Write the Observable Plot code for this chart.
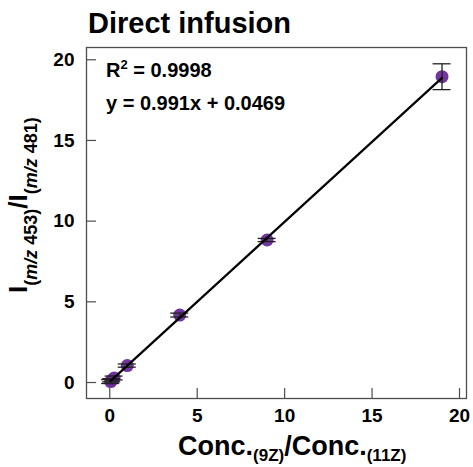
<!DOCTYPE html>
<html>
<head>
<meta charset="utf-8">
<script src="https://cdn.jsdelivr.net/npm/d3@7"></script>
<script src="https://cdn.jsdelivr.net/npm/@observablehq/plot@0.6"></script>
<style>
  body { margin: 0; background: #fff; }
  svg text { white-space: pre; }
</style>
</head>
<body>
<div id="chart"></div>
<script>
// Concentration ratio 9Z/11Z and measured intensity ratio m/z 453 / m/z 481
const concRatio = [0.0526, 0.111, 0.25, 1, 4, 9, 19];
const intensityRatio = [0.06, 0.14, 0.28, 1.05, 4.18, 8.83, 18.95];
const intensitySD = [0.12, 0.1, 0.12, 0.1, 0.12, 0.1, 0.8];

// Linear fit reported on the chart
const slope = 0.991;
const intercept = 0.0469;
const rSquared = "0.9998";

const xTicks = [0, 5, 10, 15, 20];
const yTicks = [0, 5, 10, 15, 20];

const points = concRatio.map((x, i) => ({x, y: intensityRatio[i], sd: intensitySD[i]}));
const fitRange = [d3.min(concRatio), d3.max(concRatio)];
const fitLine = fitRange.map(x => ({x, y: slope * x + intercept}));

const font = "'Liberation Sans', Arial, Helvetica, sans-serif";
const axisColor = "#4d4d4d";
const dotColor = "#6a2a98";

const W = 473, H = 467;
const mL = 86, mR = 7, mT = 47, mB = 69;
const frameW = W - mL - mR, frameH = H - mT - mB;
const tickLen = 10;

const chart = Plot.plot({
  width: W,
  height: H,
  marginLeft: mL,
  marginRight: mR,
  marginTop: mT,
  marginBottom: mB,
  style: {fontFamily: font, background: "#fff", color: "#000"},
  x: {domain: [-1.33, 20.4]},
  y: {domain: [-0.99, 20.76]},
  marks: [
    Plot.frame({stroke: axisColor, strokeWidth: 1.3}),
    // inward ticks
    Plot.ruleX(xTicks, {x: d => d, insetTop: frameH - tickLen, stroke: axisColor, strokeWidth: 1.2}),
    Plot.ruleY(yTicks, {y: d => d, insetRight: frameW - tickLen, stroke: axisColor, strokeWidth: 1.2}),
    Plot.axisX(xTicks, {tickSize: 0, tickPadding: 10, fontSize: 19, fontWeight: "bold", label: null}),
    Plot.axisY(yTicks, {tickSize: 0, tickPadding: 12, fontSize: 19, fontWeight: "bold", label: null}),
    // data points with error bars
    Plot.dot(points, {x: "x", y: "y", r: 6.5, fill: dotColor, fillOpacity: 0.95}),
    Plot.ruleX(points, {x: "x", y1: d => d.y - d.sd, y2: d => d.y + d.sd, stroke: "#222", strokeWidth: 1.3}),
    Plot.ruleY(points, {y: d => d.y - d.sd, x1: "x", x2: "x", insetLeft: -9, insetRight: -9, stroke: "#222", strokeWidth: 1.3}),
    Plot.ruleY(points, {y: d => d.y + d.sd, x1: "x", x2: "x", insetLeft: -9, insetRight: -9, stroke: "#222", strokeWidth: 1.3}),
    // regression line
    Plot.line(fitLine, {x: "x", y: "y", stroke: "#000", strokeWidth: 2.2})
  ]
});

document.getElementById("chart").append(chart);

const svg = d3.select(chart);

function label(x, y, size) {
  return svg.append("text")
    .attr("x", x).attr("y", y)
    .attr("text-anchor", "start")
    .attr("font-family", font).attr("font-size", size).attr("font-weight", "bold")
    .attr("fill", "#000");
}

// Title
label(88, 33, 29).text("Direct infusion");

// Fit statistics
const stat1 = label(106, 77, 20);
stat1.append("tspan").text("R");
stat1.append("tspan").attr("font-size", 13).attr("dy", -8).text("2");
stat1.append("tspan").attr("dy", 8).text(" = " + rSquared);

label(106, 110, 20).text(`y = ${slope}x + ${intercept}`);

// Rich text helper: segments with size, italic and baseline shift
function richText(sel, segments) {
  let prev = 0;
  for (const s of segments) {
    const t = sel.append("tspan")
      .attr("font-size", s.size)
      .attr("dy", s.shift - prev)
      .text(s.t);
    if (s.italic) t.attr("font-style", "italic");
    prev = s.shift;
  }
}

// x-axis label
const xl = label(178, 455, 27);
richText(xl, [
  {t: "Conc.", size: 27, shift: 0},
  {t: "(9Z)", size: 17, shift: 6},
  {t: "/Conc.", size: 27, shift: 0},
  {t: "(11Z)", size: 17, shift: 6}
]);

// y-axis label
const yl = label(0, 0, 26).attr("transform", "translate(27,293) rotate(-90)");
richText(yl, [
  {t: "I", size: 26, shift: 0},
  {t: "(", size: 18, shift: 10},
  {t: "m/z", size: 18, shift: 10, italic: true},
  {t: " 453)", size: 18, shift: 10},
  {t: "/I", size: 26, shift: 0},
  {t: "(", size: 18, shift: 10},
  {t: "m/z", size: 18, shift: 10, italic: true},
  {t: " 481)", size: 18, shift: 10}
]);
</script>
</body>
</html>
